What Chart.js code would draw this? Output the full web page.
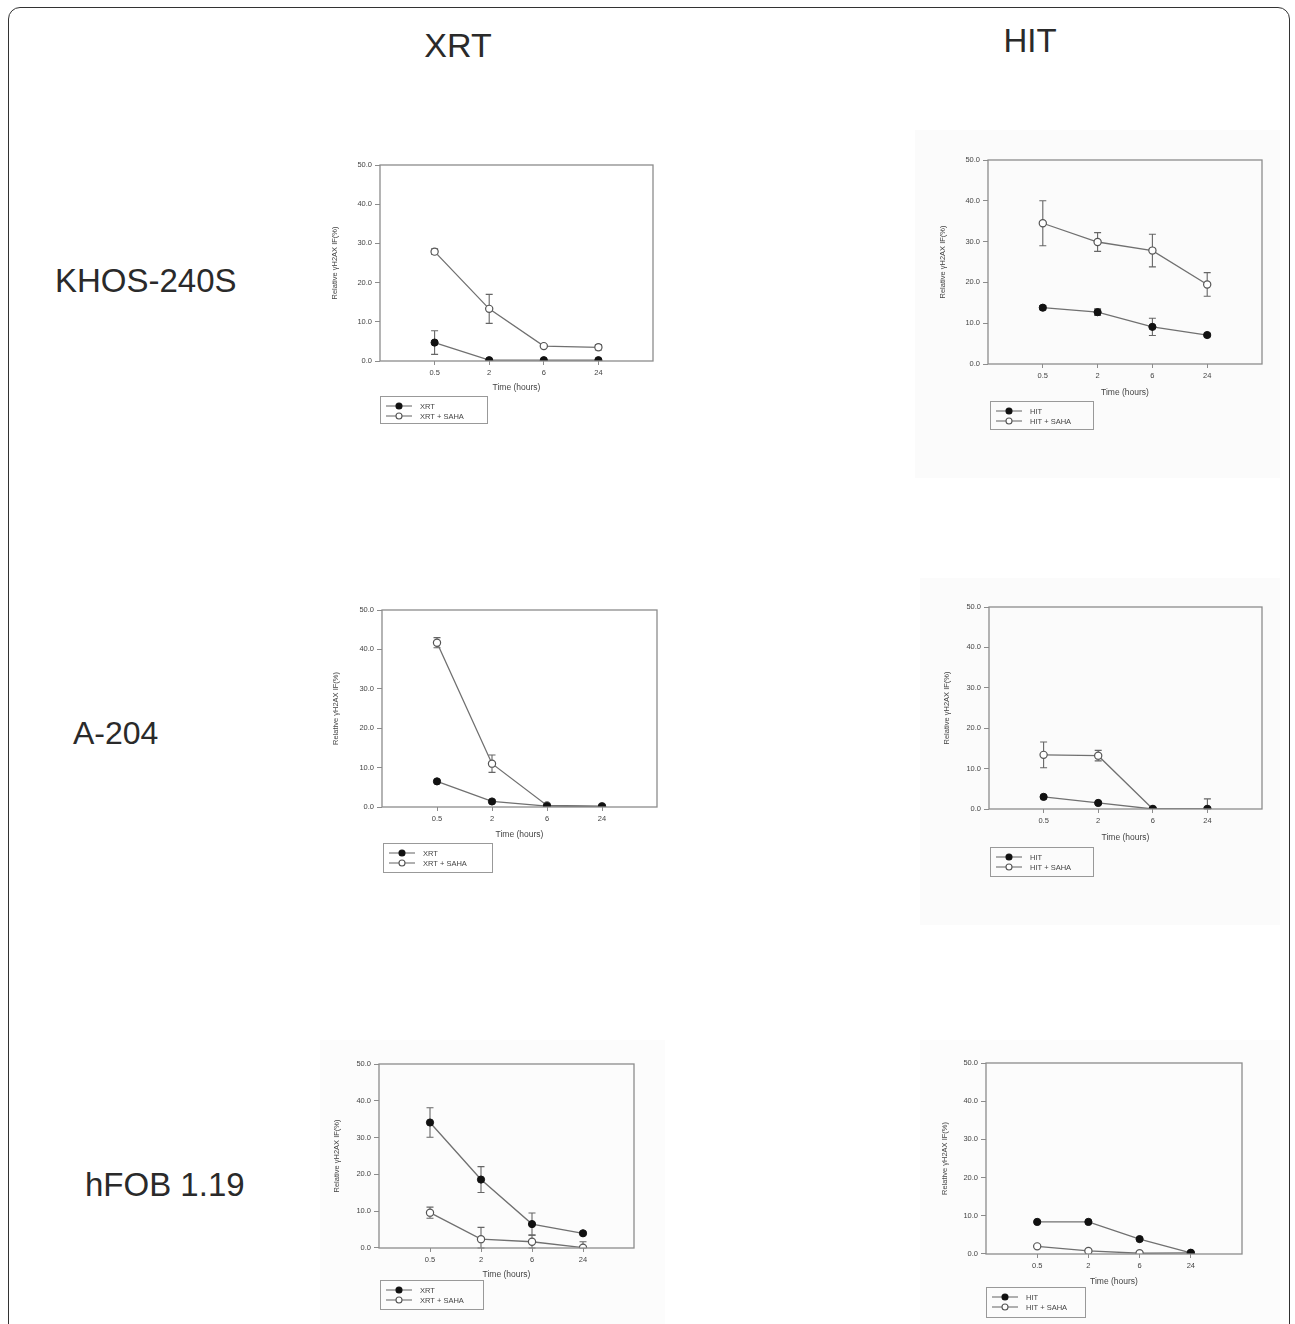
<!DOCTYPE html>
<html><head><meta charset="utf-8">
<script src="https://cdn.jsdelivr.net/npm/chart.js@4.4.1/dist/chart.umd.min.js"></script>
<style>
html,body{margin:0;padding:0;background:#fff;}
#page{position:relative;width:1295px;height:1324px;overflow:hidden;font-family:"Liberation Sans",Arial,sans-serif;}
#frame{position:absolute;left:8px;top:7px;width:1280px;height:1380px;border:1.5px solid #333;border-radius:12px;}
.lbl{position:absolute;font-size:32px;color:#2a2a2a;white-space:nowrap;line-height:1;transform:translateY(-50%);}
.ctr{transform:translate(-50%,-50%);}
canvas{position:absolute;}
</style></head>
<body><div id="page"><div id="frame"></div>
<div class="lbl ctr" style="left:458px;top:45px;font-size:34px">XRT</div>
<div class="lbl ctr" style="left:1030px;top:40px;font-size:33px">HIT</div>
<div class="lbl" style="left:55px;top:280px;font-size:33px">KHOS-240S</div>
<div class="lbl" style="left:73px;top:733px">A-204</div>
<div class="lbl" style="left:85px;top:1184px;font-size:33px">hFOB 1.19</div>
</div>
<script>
// ---- data ----
const timeLabels = ['0.5', '2', '6', '24'];
const yTicks = [0, 10, 20, 30, 40, 50];

const khosXrt = [4.7, 0.2, 0.2, 0.2];
const khosXrtErr = [3.0, 0, 0, 0];
const khosXrtSaha = [27.9, 13.3, 3.8, 3.5];
const khosXrtSahaErr = [0.7, 3.7, 0.3, 0.7];

const khosHit = [13.8, 12.7, 9.1, 7.1];
const khosHitErr = [0.5, 0.8, 2.1, 0.4];
const khosHitSaha = [34.5, 29.9, 27.8, 19.5];
const khosHitSahaErr = [5.5, 2.3, 4.0, 2.9];

const a204Xrt = [6.5, 1.4, 0.2, 0.1];
const a204XrtErr = [0.3, 0.4, 0, 0];
const a204XrtSaha = [41.7, 11.0, 0.4, 0.2];
const a204XrtSahaErr = [1.3, 2.2, 0.2, 0];

const a204Hit = [3.0, 1.5, 0, 0];
const a204HitErr = [0.3, 0.3, 0, 0];
const a204HitSaha = [13.4, 13.2, 0, 0];
const a204HitSahaErr = [3.2, 1.3, 0, 2.5];

const hfobXrt = [34.1, 18.6, 6.5, 4.0];
const hfobXrtErr = [4.0, 3.5, 3.0, 0.4];
const hfobXrtSaha = [9.6, 2.4, 1.7, 0.1];
const hfobXrtSahaErr = [1.5, 3.2, 1.8, 1.6];

const hfobHit = [8.4, 8.4, 3.9, 0.3];
const hfobHitErr = [0.3, 0.3, 0.3, 0];
const hfobHitSaha = [2.0, 0.8, 0.2, 0.3];
const hfobHitSahaErr = [0.2, 0.2, 0, 0];

const yTitle = 'Relative \u03B3H2AX IF(%)';
const xTitle = 'Time (hours)';

// ---- layout (page coordinates) ----
const panels = [
  {canvas:[320,140,680,440], plot:[380,165,653,361], yTitleX:335, xTitleY:388, legend:[380,396,487,423], bg:'#ffffff',
   names:['XRT','XRT + SAHA'], a:khosXrt, ae:khosXrtErr, b:khosXrtSaha, be:khosXrtSahaErr},
  {canvas:[915,130,1280,478], plot:[988,160,1262,364], yTitleX:943, xTitleY:393, legend:[990,401,1093,429], bg:'#fbfbfb',
   names:['HIT','HIT + SAHA'], a:khosHit, ae:khosHitErr, b:khosHitSaha, be:khosHitSahaErr},
  {canvas:[320,590,680,890], plot:[382,610,657,807], yTitleX:336, xTitleY:835, legend:[383,843,492,872], bg:'#ffffff',
   names:['XRT','XRT + SAHA'], a:a204Xrt, ae:a204XrtErr, b:a204XrtSaha, be:a204XrtSahaErr},
  {canvas:[920,578,1280,925], plot:[989,607,1262,809], yTitleX:947, xTitleY:838, legend:[990,847,1093,876], bg:'#fbfbfb',
   names:['HIT','HIT + SAHA'], a:a204Hit, ae:a204HitErr, b:a204HitSaha, be:a204HitSahaErr},
  {canvas:[320,1040,665,1324], plot:[379,1064,634,1248], yTitleX:337, xTitleY:1275, legend:[380,1280,483,1309], bg:'#fcfcfc',
   names:['XRT','XRT + SAHA'], a:hfobXrt, ae:hfobXrtErr, b:hfobXrtSaha, be:hfobXrtSahaErr},
  {canvas:[920,1040,1280,1324], plot:[986,1063,1242,1254], yTitleX:945, xTitleY:1282, legend:[986,1287,1085,1317], bg:'#fcfcfc',
   names:['HIT','HIT + SAHA'], a:hfobHit, ae:hfobHitErr, b:hfobHitSaha, be:hfobHitSahaErr}
];

const LINE = '#707070', AXIS = '#8c8c8c', TXT = '#444';
const FAM = '"Liberation Sans", Arial, sans-serif';

const bgPlugin = {
  id:'bgFill',
  beforeDraw(chart, args, opts){
    const c = chart.ctx; c.save(); c.fillStyle = opts.color || '#fff';
    c.fillRect(0,0,chart.width,chart.height); c.restore();
  }
};
const framePlugin = {
  id:'plotFrame',
  afterDraw(chart){
    const a = chart.chartArea, c = chart.ctx;
    c.save(); c.strokeStyle = AXIS; c.lineWidth = 1.3;
    c.strokeRect(a.left, a.top, a.right-a.left, a.bottom-a.top); c.restore();
  }
};
const errPlugin = {
  id:'errBars',
  beforeDatasetsDraw(chart){
    const c = chart.ctx, xs = chart.scales.x, ys = chart.scales.y;
    c.save(); c.strokeStyle = '#666'; c.lineWidth = 1.1;
    chart.data.datasets.forEach(ds => {
      if (!ds.errors) return;
      ds.data.forEach((p,i) => {
        const e = ds.errors[i]; if (!e) return;
        const x = xs.getPixelForValue(p.x);
        const yt = ys.getPixelForValue(p.y + e);
        const yb = ys.getPixelForValue(Math.max(0, p.y - e));
        c.beginPath();
        c.moveTo(x, yt); c.lineTo(x, yb);
        c.moveTo(x-3.5, yt); c.lineTo(x+3.5, yt);
        c.moveTo(x-3.5, yb); c.lineTo(x+3.5, yb);
        c.stroke();
      });
    });
    c.restore();
  }
};
const legendPlugin = {
  id:'boxLegend',
  afterDraw(chart, args, opts){
    const c = chart.ctx, [l,t,r,b] = opts.box;
    c.save();
    c.strokeStyle = '#999'; c.lineWidth = 1;
    c.strokeRect(l+0.5, t+0.5, r-l, b-t);
    chart.data.datasets.forEach((ds, i) => {
      const y = t + 10 + i*10;
      c.strokeStyle = LINE; c.lineWidth = 1.1;
      c.beginPath(); c.moveTo(l+6, y); c.lineTo(l+32, y); c.stroke();
      c.beginPath(); c.arc(l+19, y, 3, 0, Math.PI*2);
      c.fillStyle = ds.pointBackgroundColor; c.fill();
      c.strokeStyle = ds.pointBorderColor; c.lineWidth = 1.1; c.stroke();
      c.fillStyle = TXT; c.font = '7.5px ' + FAM;
      c.textBaseline = 'middle'; c.textAlign = 'left';
      c.fillText(ds.label, l+40, y+0.5);
    });
    c.restore();
  }
};

panels.forEach((p, k) => {
  const [cl, ct, cr, cb] = p.canvas, [pl, pt, pr, pb] = p.plot;
  const cv = document.createElement('canvas');
  cv.width = cr - cl; cv.height = cb - ct;
  cv.style.left = cl + 'px'; cv.style.top = ct + 'px';
  cv.style.width = (cr-cl) + 'px'; cv.style.height = (cb-ct) + 'px';
  document.getElementById('page').appendChild(cv);

  const yTitleFont = 7.5, xTitleFont = 8.5;
  const yw = pl - cl;
  const xh = p.xTitleY - pb + xTitleFont*1.2/2;
  const padBottom = cb - (pb + xh);
  const yTitlePad = p.yTitleX - cl - yTitleFont*1.2/2;
  const pts = arr => arr.map((v, i) => ({x: i + 1, y: v}));

  new Chart(cv, {
    type:'line',
    data:{datasets:[
      {label:p.names[0], data:pts(p.a), errors:p.ae, borderColor:LINE, borderWidth:1.3,
       pointRadius:3.6, pointBackgroundColor:'#111', pointBorderColor:'#111', pointBorderWidth:1, tension:0},
      {label:p.names[1], data:pts(p.b), errors:p.be, borderColor:LINE, borderWidth:1.3,
       pointRadius:3.6, pointBackgroundColor:'#ffffff', pointBorderColor:'#555', pointBorderWidth:1.2, tension:0}
    ]},
    options:{
      responsive:false, animation:false, devicePixelRatio:1,
      layout:{padding:{left:0, top:pt-ct, right:cr-pr, bottom:padBottom}},
      plugins:{
        legend:{display:false}, tooltip:{enabled:false},
        bgFill:{color:p.bg},
        boxLegend:{box:[p.legend[0]-cl, p.legend[1]-ct, p.legend[2]-cl, p.legend[3]-ct]}
      },
      scales:{
        x:{type:'linear', min:0, max:5,
           afterBuildTicks:s => { s.ticks = timeLabels.map((t, i) => ({value:i + 1})); },
           afterFit:s => { s.height = xh; },
           grid:{display:true, drawOnChartArea:false, drawTicks:true, tickLength:4, color:AXIS},
           border:{display:false},
           ticks:{autoSkip:false, maxRotation:0, padding:3, color:TXT,
                  font:{size:7.5, family:FAM},
                  callback:v => timeLabels[v - 1]},
           title:{display:true, text:xTitle, color:TXT, padding:{top:0,bottom:0},
                  font:{size:xTitleFont, family:FAM}}
        },
        y:{type:'linear', min:0, max:50,
           afterBuildTicks:s => { s.ticks = yTicks.map(v => ({value:v})); },
           afterFit:s => { s.width = yw; },
           grid:{display:true, drawOnChartArea:false, drawTicks:true, tickLength:5, color:AXIS},
           border:{display:false},
           ticks:{padding:3, color:TXT, font:{size:7.5, family:FAM},
                  callback:v => Number(v).toFixed(1)},
           title:{display:true, text:yTitle, color:TXT, padding:{top:yTitlePad, bottom:0},
                  font:{size:yTitleFont, family:FAM}}
        }
      }
    },
    plugins:[bgPlugin, framePlugin, errPlugin, legendPlugin]
  });
});
</script>
</body></html>
